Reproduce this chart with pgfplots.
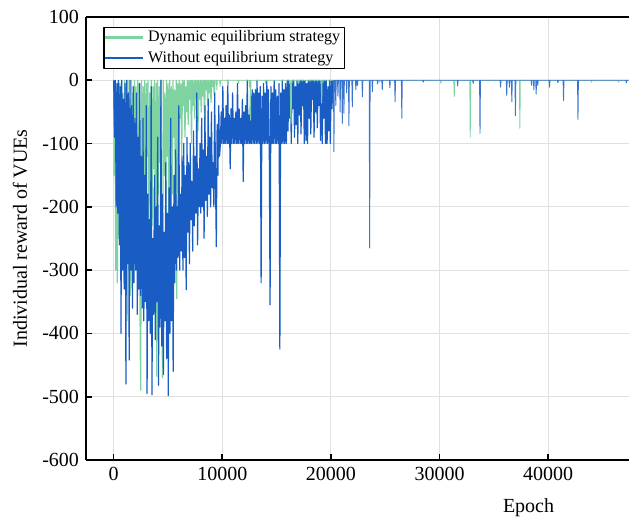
\documentclass[border=0pt]{standalone}
\usepackage{fontspec}
\setmainfont{Liberation Serif}
\usepackage{pgfplots}
\pgfplotsset{compat=1.18}

\definecolor{dyngreen}{RGB}{126,211,161}
\definecolor{woblue}{RGB}{25,92,196}

\begin{document}
\begin{tikzpicture}
\begin{axis}[
    name=ax,
    scale only axis,
    width=271.5pt, height=221.5pt,
    xmin=-2550, xmax=47450,
    ymin=-600, ymax=100,
    xtick={0,10000,20000,30000,40000},
    ytick={-600,-500,-400,-300,-200,-100,0,100},
    axis x line*=box, axis y line*=left,
    axis line style={line width=0.9pt, -},
    xtick pos=lower, ytick pos=left,
    tick align=inside,
    major tick length=2.8pt,
    tick style={black, line width=0.8pt},
    grid=major,
    major grid style={line width=0.5pt, black!12},
    scaled x ticks=false,
    /pgf/number format/1000 sep={},
    /pgf/number format/assume math mode=true,
    ticklabel style={font=\fontsize{10}{12}\selectfont},
    label style={font=\fontsize{10}{12}\selectfont},
    xlabel={Epoch},
    ylabel={Individual reward of VUEs},
    xlabel style={at={(axis description cs:0.815,-0.108)}, anchor=center},
    ylabel style={at={(axis description cs:-0.1215,0.5)}, anchor=center},
    legend style={at={(0.032,0.978)}, anchor=north west, draw=black, line width=0.6pt,
        fill=white, font=\fontsize{8}{9.5}\selectfont, inner xsep=0pt, inner ysep=0pt,
        nodes={inner ysep=1.6pt, inner xsep=2.2pt}},
    legend cell align=left,
    legend image code/.code={\draw[#1, line width=1.2pt, opacity=1] (-2.2pt,0pt) -- (16.5pt,0pt);},
    line join=round,
]

% Dynamic equilibrium strategy (dense early part)
\addplot[dyngreen, line width=0.6pt, line join=round] coordinates {
(0,0)(37,-150)(112,0)(187,-300)(262,-10)(337,-320)(412,0)(487,-250)(562,-5)(637,-300)
(712,0)(787,-280)(862,-20)(937,-320)(1012,0)(1087,-260)(1162,-10)(1237,-380)(1312,0)(1387,-300)
(1462,-30)(1537,-340)(1612,0)(1687,-280)(1762,-20)(1837,-300)(1912,0)(1987,-250)(2062,-10)(2137,-300)
(2212,0)(2287,-260)(2362,-5)(2437,-420)(2490,-490)(2562,0)(2637,-200)(2712,-10)(2787,-150)(2862,0)
(2937,-250)(3012,-5)(3087,-120)(3162,0)(3237,-300)(3312,-20)(3387,-160)(3462,0)(3537,-230)(3612,-10)
(3687,-140)(3762,0)(3837,-280)(3912,-5)(3970,-468)(4037,0)(4112,-180)(4187,-10)(4262,-130)(4337,0)
(4412,-250)(4490,-470)(4562,0)(4637,-150)(4712,-20)(4787,-210)(4862,0)(4937,-120)(5012,-5)(5087,-300)
(5162,0)(5237,-100)(5312,-10)(5387,-180)(5462,0)(5537,-90)(5612,-15)(5687,-200)(5762,0)(5800,-345)
(5887,-5)(5962,-80)(6037,0)(6112,-60)(6187,-5)(6262,-120)(6337,0)(6412,-40)(6487,0)(6562,-90)
(6637,-10)(6712,-50)(6787,0)(6862,-70)(6937,0)(7012,-30)(7087,0)(7162,-100)(7237,0)(7312,-40)
(7387,0)(7462,-60)(7537,0)(7612,-20)(7687,0)(7762,-80)(7837,0)(7912,-30)(7987,0)(8062,-50)
(8137,0)(8212,-25)(8287,0)(8362,-60)(8437,0)(8512,-15)(8587,0)(8662,-40)(8737,0)(8812,-20)
(8887,0)(8962,-35)(9037,0)(9112,-10)(9187,0)(9262,-25)(9337,0)
};
\addlegendentry{Dynamic equilibrium strategy}

% Without equilibrium strategy (dense early part)
\addplot[woblue, line width=0.6pt, line join=round] coordinates {
(0,0)(75,-90)(150,0)(225,-200)(300,-5)(375,-210)
(450,0)(525,-260)(600,-10)(675,-400)(750,0)(825,-300)(900,-30)(975,-330)
(1050,-5)(1125,-480)(1200,0)(1275,-290)(1350,-20)(1425,-442)(1500,0)(1575,-300)(1650,-40)(1725,-360)
(1800,-10)(1875,-320)(1950,-60)
(2025,-300)(2100,-20)(2175,-370)(2250,-90)(2325,-330)(2400,-5)(2475,-340)(2550,-120)(2625,-360)
(2700,-60)(2775,-380)(2850,-150)(2925,-350)(3000,-40)
(3075,-495)(3150,-180)(3225,-380)(3300,-220)(3375,-400)(3450,-10)(3525,-497)(3600,-250)(3675,-370)
(3750,-150)(3825,-410)(3900,-200)(3975,-350)(4050,-90)(4125,-482)(4200,-230)(4275,-390)(4350,0)
(4425,-420)(4500,-180)(4575,-465)(4650,-240)(4725,-380)(4800,-130)(4875,-440)(4950,-210)(5025,-498)
(5100,-170)(5175,-400)(5250,-60)(5325,-380)(5400,-200)(5475,-460)
(5550,-150)(5625,-320)(5700,-110)(5775,-300)(5850,-200)(5925,-280)(6000,-40)(6075,-300)(6150,-180)
(6225,-270)(6300,-120)(6375,-300)(6450,-100)
(6525,-280)(6600,-150)(6675,-331)(6750,-90)(6825,-240)(6900,-130)(6975,-290)(7050,-100)(7125,-220)
(7200,-160)(7275,-270)(7350,-80)(7425,-230)(7500,-120)(7575,-210)(7650,-20)(7725,-260)(7800,-140)
(7875,-200)(7950,-100)
(8025,-210)(8100,-60)(8175,-200)(8250,-110)(8325,-250)(8400,-40)(8475,-190)(8550,-120)(8625,-215)
(8700,-30)(8775,-180)(8850,-90)(8925,-200)(9000,-50)(9075,-170)(9150,-130)(9225,-200)(9300,-20)
(9375,-160)(9450,-263)(9525,-70)(9600,-150)(9675,-40)(9750,-120)
(9825,-100)(9900,-50)(9975,-100)(10050,-10)(10125,-100)(10200,-60)(10275,-100)(10350,-40)(10425,-100)
(10500,0)(10575,-100)(10650,-55)(10725,-140)(10800,-45)(10875,-100)(10950,-20)(11025,-100)(11100,-60)
(11175,-100)(11250,-50)(11325,-100)(11400,-5)(11475,-100)(11550,-45)(11625,-100)(11700,-60)(11775,-100)
(11850,-30)(11925,-160)(12000,-50)(12075,-100)(12150,-40)(12225,-100)(12300,0)(12375,-100)(12450,-55)
(12525,-100)(12600,-25)(12675,-100)(12750,-15)(12825,-100)(12900,-20)(12975,-100)
(13050,-15)(13125,-100)(13200,0)(13275,-100)(13350,-20)(13425,-100)(13500,-10)(13575,-320)(13650,-25)
(13725,-100)(13800,-5)(13875,-100)(13950,-20)(14025,-100)(14100,0)(14175,-100)(14250,-15)(14325,-100)
(14400,-355)(14475,-10)(14550,-100)(14625,-20)(14700,-100)(14775,0)(14850,-100)(14925,-15)(15000,-100)
(15075,-25)(15150,-100)(15225,-5)(15300,-425)(15375,-20)(15450,-100)(15525,0)(15600,-100)(15675,-15)
(15750,-100)(15825,-5)(15900,-100)
(15975,0)(16050,-80)(16125,0)(16200,-60)(16275,-5)(16350,-100)(16425,0)(16500,-45)(16575,0)(16650,-90)
(16725,-10)(16800,-70)(16875,0)(16950,-100)(17025,0)(17100,-55)(17175,0)(17250,-85)(17325,0)(17400,-40)
(17475,0)(17550,-100)(17625,0)(17700,-95)(17775,-5)(17850,-100)(17925,0)(18000,-60)(18075,0)(18150,-85)
(18225,0)(18300,-30)(18375,0)(18450,-90)(18525,0)(18600,-50)(18675,0)(18750,-75)(18825,0)(18900,-40)
(18975,0)(19050,-95)(19125,0)(19200,-100)(19275,0)(19350,-60)(19425,0)(19500,-100)(19575,0)(19650,-100)
(19725,-10)(19800,-80)(19875,0)(19950,-100)(20025,0)(20100,-45)(20175,0)
};
\addlegendentry{Without equilibrium strategy}

% late, sparse parts of both series (thinner strokes)
\addplot[dyngreen, line width=0.45pt, forget plot] coordinates {
(9337,0)(9460,0)(9500,-15)(9540,0)(9760,0)(9800,-10)(9840,0)(10460,0)(10500,-8)(10540,0)(11460,0)(11500,-5)
(11540,0)(12460,0)(12500,-10)(12560,0)(12600,-63)(12640,0)(13960,0)(14000,-5)(14040,0)(16260,0)
(16300,-60)(16340,-68)(16380,0)(16960,0)(17000,-5)(17040,0)(19110,0)(19150,-36)(19190,0)(24460,0)
(24500,-3)(24540,0)(30090,0)(30130,-5)(30170,0)(31320,0)(31360,-26)(31400,0)(32790,0)(32830,-90)
(32870,0)(37360,0)(37400,-76)(37440,0)(43960,0)(44000,-3)(44040,0)(46460,0)(46500,-3)(46540,0)
(47450,0)
};
\addplot[woblue!85!white, line width=0.45pt, forget plot] coordinates {
(20175,0)
(20240,0)(20280,-113)(20320,0)(20410,0)(20450,-40)(20490,0)(20610,0)(20650,-25)(20690,0)(20810,0)
(20850,-50)(20890,0)(21010,0)(21050,-68)(21090,0)(21160,0)(21200,-52)(21240,0)(21410,0)(21450,-20)
(21490,0)(21620,0)(21660,-72)(21700,0)(21930,0)(21970,-42)(22010,0)(22260,0)(22300,-15)(22340,0)
(22410,0)(22450,-8)(22490,0)(22860,0)(22900,-26)(22940,0)(23530,0)(23570,-265)(23610,0)(23780,0)
(23820,-18)(23860,0)(24260,0)(24300,-6)(24340,0)(24690,0)(24730,-15)(24770,0)(25390,0)(25430,-12)
(25470,0)(25870,0)(25910,-34)(25950,0)(26490,0)(26530,-60)(26570,0)(28460,0)(28500,-3)(28540,0)
(31630,0)(31670,-9)(31710,0)(33060,0)(33100,-5)(33140,0)(33690,0)(33730,-84)(33770,0)(35580,0)
(35620,-11)(35660,0)(36150,0)(36190,-24)(36230,0)(36400,0)(36440,-11)(36480,0)(36620,0)(36660,-34)
(36700,0)(36950,0)(36990,-56)(37030,0)(38440,0)(38480,-8)(38520,0)(38650,0)(38690,-15)(38730,0)
(38860,0)(38900,-22)(38940,0)(39010,0)(39050,-8)(39090,0)(40090,0)(40130,-11)(40170,0)(40860,0)
(40900,-4)(40940,0)(41380,0)(41420,-32)(41460,0)(42710,0)(42750,-62)(42790,0)(47160,0)(47200,-4)
(47240,0)(47450,0)
};
\end{axis}
\pgfresetboundingbox
\path[use as bounding box] ([xshift=-43pt,yshift=-30.5pt]ax.south west) rectangle ([yshift=8.5pt]ax.north east);
\end{tikzpicture}
\end{document}
